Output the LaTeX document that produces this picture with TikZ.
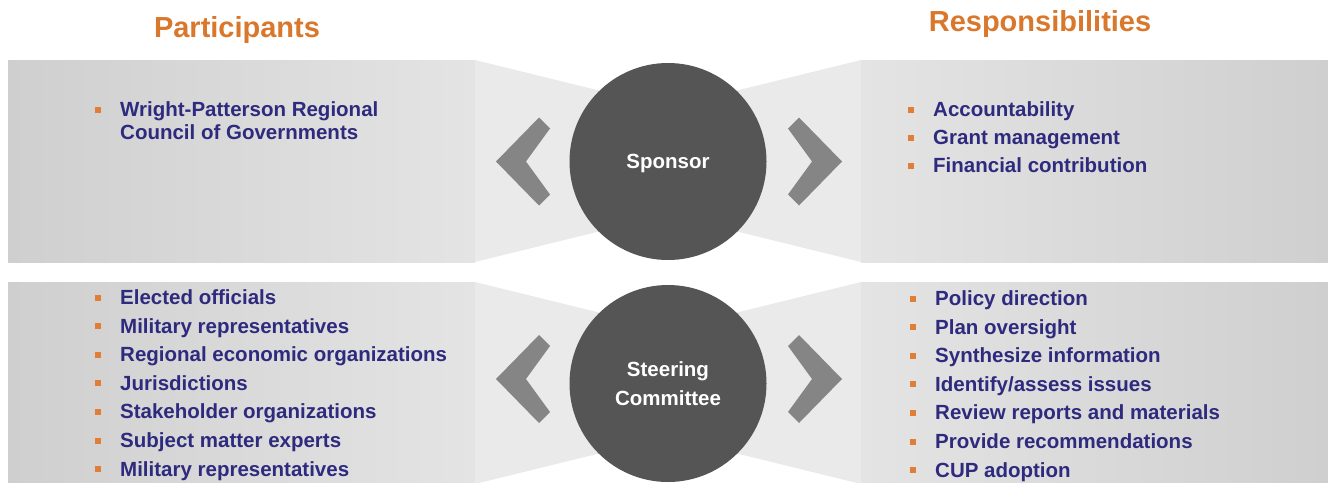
\documentclass[tikz,border=0pt]{standalone}
\usepackage{fontspec}
\setmainfont{Liberation Sans}

\definecolor{titleor}{HTML}{D9782D}
\definecolor{bulletor}{HTML}{E07E35}
\definecolor{navy}{HTML}{2E2A7E}
\definecolor{ringgray}{HTML}{555555}
\definecolor{chevgray}{HTML}{858585}
\definecolor{bandlight}{HTML}{EAEAEA}
\definecolor{bandmid}{HTML}{E4E4E4}
\definecolor{banddark}{HTML}{CFCFCF}

\newcommand{\bul}{\llap{\textcolor{bulletor}{\rule[4pt]{6pt}{6pt}}\hspace{19pt}}}

\begin{document}
\begin{tikzpicture}
	[
	x=1pt, y=-1pt,
	title/.style={anchor=base, text=titleor, font=\fontsize{29}{34}\selectfont\bfseries},
	item/.style={anchor=base west, inner sep=0pt, text=navy, font=\fontsize{20.5}{23.5}\selectfont\bfseries},
	role/.style={circle, fill=ringgray, minimum size=197pt, inner sep=0pt, text depth=0pt, align=center, text=white, font=\fontsize{20.5}{29}\selectfont\bfseries},
	chev/.style={fill=chevgray},
	]
		\useasboundingbox (0,0) rectangle (1328,482);
		
		% bands
		\foreach \yb in {60,282} {
			\shade[left color=banddark, right color=bandmid] (8,\yb) rectangle (475,\yb+202);
			\shade[left color=bandmid, right color=banddark] (861,\yb) rectangle (1328,\yb+202);
			\fill[bandlight] (475,\yb) -- (668,\yb+47.5) -- (861,\yb) -- (861,\yb+202) -- (668,\yb+154.5) -- (475,\yb+202) -- cycle;
		}
		
		% headings
		\node[title] (part) at 		( 237, 37 ) {Participants};
		\node[title] (resp) at 		(1040, 31 ) {Responsibilities};
		
		% roles
		\node[role] (sp) at 		( 668, 161.5 ) {Sponsor};
		\node[role] (sc) at 		( 668, 383.5 ) {Steering\\Committee};
		
		% chevrons
		\foreach \cy in {161.5,379} {
			\fill[chev] (496,\cy) -- (539,\cy-44) -- (550,\cy-33) -- (526,\cy) -- (550,\cy+33) -- (539,\cy+44) -- cycle;
			\fill[chev] (842,\cy) -- (799,\cy-44) -- (788,\cy-33) -- (812,\cy) -- (788,\cy+33) -- (799,\cy+44) -- cycle;
		}
		
		% sponsor row
		\node[item] (sp-p1) at 		( 120, 116.5 ) {\bul Wright-Patterson Regional};
		\node[item] (sp-p1b) at 	( 120, 139.5 ) {Council of Governments};
		\foreach \txt [count=\i] in {Accountability,Grant management,Financial contribution}
			\node[item] (sp-r\i) at (933,116.5+28*\i-28) {\bul \txt};
		
		% steering committee row
		\foreach \txt [count=\i] in {Elected officials,Military representatives,Regional economic organizations,Jurisdictions,Stakeholder organizations,Subject matter experts,Military representatives}
			\node[item] (sc-p\i) at (120,304.5+28.6*\i-28.6) {\bul \txt};
		\foreach \txt [count=\i] in {Policy direction,Plan oversight,Synthesize information,Identify/assess issues,Review reports and materials,Provide recommendations,CUP adoption}
			\node[item] (sc-r\i) at (935,305.5+28.6*\i-28.6) {\bul \txt};
		
	\end{tikzpicture}
\end{document}
